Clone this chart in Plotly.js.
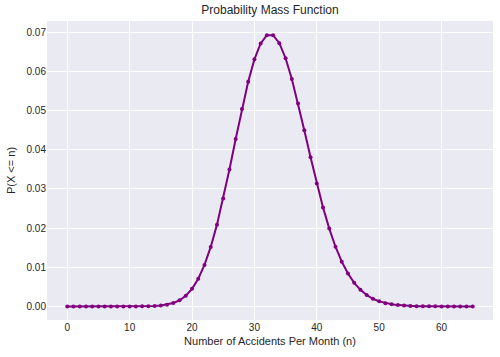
<!DOCTYPE html>
<html>
<head>
<meta charset="utf-8">
<script src="https://cdn.plot.ly/plotly-3.0.1.min.js"></script>
<style>html,body{margin:0;padding:0;background:#fff;}#chart{width:500px;height:357px;}</style>
</head>
<body>
<div id="chart"></div>
<script>
const accidents = [0,1,2,3,4,5,6,7,8,9,10,11,12,13,14,15,16,17,18,19,20,21,22,23,24,25,26,27,28,29,30,31,32,33,34,35,36,37,38,39,40,41,42,43,44,45,46,47,48,49,50,51,52,53,54,55,56,57,58,59,60,61,62,63,64,65];
const probability = [0,0,0,0,0,0,0,0,0,0.0000001,0.000002,0.000006,0.000016,0.000041,0.000097,0.000214,0.000441,0.000856,0.00157,0.00272,0.00449,0.00706,0.01059,0.01519,0.02089,0.02757,0.03499,0.04277,0.05041,0.05736,0.06310,0.06717,0.06927,0.06927,0.06723,0.06339,0.05811,0.05183,0.04501,0.03809,0.03142,0.02529,0.01987,0.01525,0.01144,0.00839,0.00602,0.00423,0.00291,0.00196,0.00129,0.000836,0.000530,0.000330,0.000202,0.000121,0.0000713,0.0000413,0.0000235,0.0000131,0.0000072,0.0000039,0.0000021,0.0000011,0.0000006,0.0000003];
const xTicks = [0,10,20,30,40,50,60];
const yTicks = [0,0.01,0.02,0.03,0.04,0.05,0.06,0.07];

const font = {family: 'Liberation Sans, Arial, sans-serif', color: '#262626'};
Plotly.newPlot('chart', [{
  x: accidents, y: probability, type: 'scatter', mode: 'lines+markers',
  line: {color: '#800080', width: 2},
  marker: {color: '#800080', size: 4}
}], {
  width: 500, height: 357,
  margin: {l: 47, r: 7, t: 21, b: 37},
  paper_bgcolor: '#ffffff', plot_bgcolor: '#EAEAF2',
  showlegend: false,
  title: {text: 'Probability Mass Function', font: Object.assign({size: 12}, font), x: 0.54, xanchor: 'center', y: 0.972, yanchor: 'middle'},
  xaxis: {range: [-3.25, 68.25], tickvals: xTicks, ticktext: xTicks.map(String),
    showgrid: true, gridcolor: '#ffffff', gridwidth: 1, zeroline: false, showline: false,
    ticks: '', tickfont: Object.assign({size: 10}, font),
    title: {text: 'Number of Accidents Per Month (n)', font: Object.assign({size: 11}, font), standoff: 5}},
  yaxis: {range: [-0.00347, 0.0729], tickvals: yTicks, ticktext: yTicks.map(v => v.toFixed(2)),
    showgrid: true, gridcolor: '#ffffff', gridwidth: 1, zeroline: false, showline: false,
    ticks: '', tickfont: Object.assign({size: 10}, font),
    title: {text: 'P(X <= n)', font: Object.assign({size: 11}, font), standoff: 8}}
}, {displayModeBar: false, staticPlot: true});
</script>
</body>
</html>
